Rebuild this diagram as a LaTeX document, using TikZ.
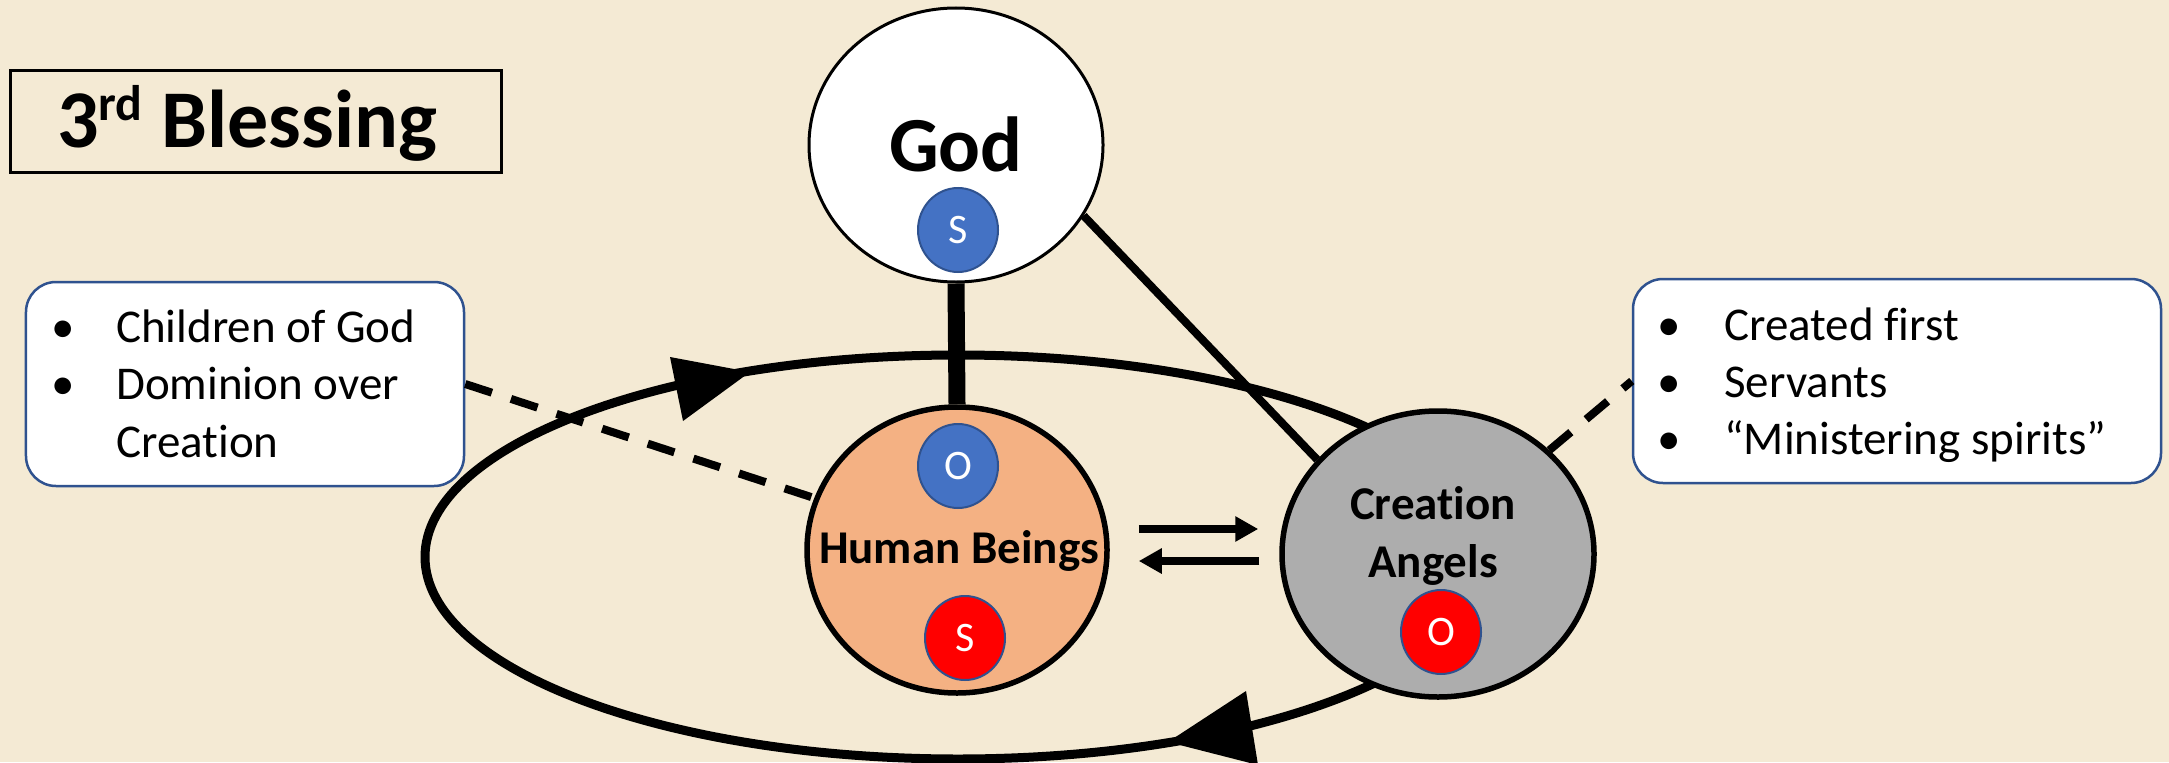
\documentclass[tikz,border=0pt]{standalone}
\usepackage{fontspec}
\setmainfont{Carlito}[Ligatures=NoCommon]
\usetikzlibrary{arrows.meta,shapes.geometric}
\definecolor{bg}{HTML}{F4EAD4}
\definecolor{humanfill}{HTML}{F4B183}
\definecolor{angelfill}{HTML}{ADADAD}
\definecolor{sblue}{HTML}{4472C4}
\definecolor{sred}{HTML}{FF0000}
\definecolor{edgeblue}{HTML}{2F528F}
\begin{document}
\begin{tikzpicture}[x=1bp,y=-1bp,
  bigell/.style={ellipse, draw=black, inner sep=0pt},
  mini/.style={ellipse, draw=edgeblue, line width=2bp, inner sep=0pt,
    minimum width=80bp, minimum height=84bp, text=white,
    font=\fontsize{42bp}{42bp}\selectfont},
  lbl/.style={inner sep=0pt, anchor=base, font=\fontsize{47bp}{47bp}\selectfont\bfseries},
  infobox/.style={draw=edgeblue, line width=2.5bp, fill=white, rounded corners=30bp, inner sep=0pt},
  bulletline/.style={inner sep=0pt, anchor=base west, font=\fontsize{47bp}{47bp}\selectfont},
  loopline/.style={line width=9bp},
  dashconn/.style={line width=8bp, dash pattern=on 28bp off 20bp},
  dblarrow/.style={line width=8bp, -{Triangle[length=23bp,width=24bp]}}
]
\fill[bg] (0,0) rectangle (2169,762);
\useasboundingbox (0,0) rectangle (2169,762);

% cycle loop with its two arrowheads
\draw[loopline] (958,557) ellipse [x radius=533, y radius=202];
\fill (750,372) -- (670,357) -- (683,421) -- cycle;
\fill (1168,742) -- (1246,691) -- (1258,765) -- cycle;

% title
\node[draw, line width=3bp, minimum width=490bp, minimum height=101bp, inner sep=0pt] (titlebox) at (256,121.5) {};
\node[anchor=base west, inner sep=0pt, font=\fontsize{82bp}{82bp}\selectfont\bfseries] (title) at (57,147)
  {3\raisebox{27bp}{\fontsize{50bp}{50bp}\selectfont rd} Blessing};

% God
\node[bigell, fill=white, line width=3bp, minimum width=294bp, minimum height=274bp] (god) at (956,145) {};
\node[lbl, font=\fontsize{78bp}{78bp}\selectfont\bfseries] (godtxt) at (956,171) {God};
\node[mini, fill=sblue] (gods) at (958,230) {S};

% Human Beings
\node[bigell, fill=humanfill, line width=5.5bp, minimum width=300bp, minimum height=286bp] (human) at (957,550) {};
\node[mini, fill=sblue] (humo) at (958,466) {O};
\node[lbl] (humtxt) at (959,563) {Human Beings};
\node[mini, fill=sred] (hums) at (965,638) {S};

% Creation Angels
\node[bigell, fill=angelfill, line width=5.5bp, minimum width=312bp, minimum height=286bp] (angels) at (1438,554) {};
\node[lbl] (angtxt1) at (1433,519) {Creation};
\node[lbl] (angtxt2) at (1433,577) {Angels};
\node[mini, fill=sred] (ango) at (1441,632) {O};

% info boxes
\node[infobox, minimum width=438bp, minimum height=204bp] (leftbox) at (245,384) {};
\node[bulletline] (l1) at (43,342) {\makebox[40bp]{•}\hspace{33bp}Children of God};
\node[bulletline] (l2) at (43,399.5) {\makebox[40bp]{•}\hspace{33bp}Dominion over};
\node[bulletline] (l3) at (116,457) {Creation};

\node[infobox, minimum width=528bp, minimum height=204bp] (rightbox) at (1897,381) {};
\node[bulletline] (r1) at (1649,340) {\makebox[40bp]{•}\hspace{35bp}Created first};
\node[bulletline] (r2) at (1649,397) {\makebox[40bp]{•}\hspace{35bp}Servants};
\node[bulletline] (r3) at (1649,454) {\makebox[40bp]{•}\hspace{35bp}“Ministering spirits”};

% connectors
\draw[line width=17bp] (god.south) -- (human.north);
\draw[line width=8bp] (god.-29) -- (angels.142);
\draw[dashconn] (leftbox.east) -- (human.160);
\draw[dashconn] (angels.43) -- (rightbox.west);

\path (human.east) ++(29,-21) coordinate (ra);
\draw[dblarrow] (ra) -- ([xshift=-21bp]ra -| angels.west);
\path (human.east) ++(29,11) coordinate (la);
\draw[dblarrow] ([xshift=-20bp]la -| angels.west) -- (la);
\end{tikzpicture}
\end{document}
